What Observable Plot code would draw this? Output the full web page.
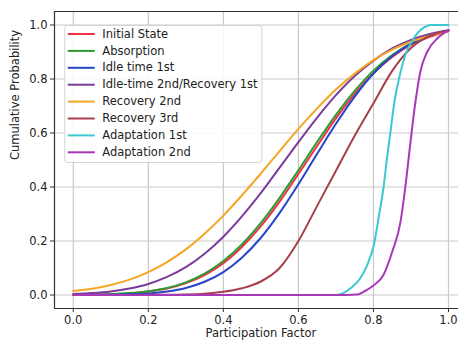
<!DOCTYPE html>
<html>
<head>
<meta charset="utf-8">
<script src="https://cdn.jsdelivr.net/npm/d3@7"></script>
<script src="https://cdn.jsdelivr.net/npm/@observablehq/plot@0.6"></script>
<style>
  html, body { margin: 0; padding: 0; background: #fff; overflow: hidden; }
  #chart { width: 458px; height: 343px; }
</style>
</head>
<body>
<div id="chart"></div>
<script>
// ---- Data ----
const seriesNames = [
  "Initial State", "Absorption", "Idle time 1st", "Idle-time 2nd/Recovery 1st",
  "Recovery 2nd", "Recovery 3rd", "Adaptation 1st", "Adaptation 2nd"
];
const seriesColors = ["#f2304a", "#2f9a2f", "#2446c8", "#7a3c9c", "#f5a623", "#a8404c", "#3cc8d2", "#a838b8"];

const gridX = [0, 0.05, 0.1, 0.15, 0.2, 0.25, 0.3, 0.35, 0.4, 0.45, 0.5,
               0.55, 0.6, 0.65, 0.7, 0.75, 0.8, 0.85, 0.9, 0.95, 1.0];

const initialState = [0.0005, 0.001, 0.003, 0.006, 0.013, 0.024, 0.044, 0.074, 0.118, 0.179, 0.255,
                      0.346, 0.448, 0.552, 0.654, 0.745, 0.821, 0.882, 0.926, 0.956, 0.977];
const absorption   = [0.0006, 0.0014, 0.003, 0.007, 0.014, 0.026, 0.047, 0.079, 0.126, 0.188, 0.267,
                      0.36, 0.462, 0.567, 0.667, 0.756, 0.831, 0.889, 0.931, 0.96, 0.978];
const idleTime1st  = [0.0001, 0.0004, 0.001, 0.003, 0.006, 0.013, 0.026, 0.049, 0.085, 0.139, 0.212,
                      0.304, 0.41, 0.523, 0.634, 0.735, 0.82, 0.885, 0.931, 0.962, 0.98];
const idleTime2nd  = [0.004, 0.007, 0.013, 0.024, 0.041, 0.067, 0.103, 0.153, 0.216, 0.292, 0.378,
                      0.472, 0.566, 0.657, 0.74, 0.811, 0.868, 0.913, 0.945, 0.967, 0.981];
const recovery2nd  = [0.015, 0.023, 0.037, 0.057, 0.085, 0.122, 0.169, 0.227, 0.294, 0.37, 0.45,
                      0.533, 0.615, 0.691, 0.761, 0.82, 0.87, 0.909, 0.938, 0.96, 0.978];
const recovery3rd  = [0, 0, 0, 0, 0.001, 0.001, 0.002, 0.005, 0.012, 0.025, 0.05,
                      0.1, 0.2, 0.33, 0.46, 0.59, 0.71, 0.83, 0.915, 0.96, 0.98];

const adaptation1stX = [0, 0.1, 0.2, 0.3, 0.4, 0.5, 0.6, 0.7, 0.712, 0.739, 0.765, 0.783, 0.801, 0.815,
                        0.827, 0.836, 0.845, 0.856, 0.868, 0.885, 0.907, 0.934, 0.952, 1.0];
const adaptation1stY = [0, 0, 0, 0, 0, 0, 0, 0, 0.003, 0.025, 0.062, 0.11, 0.185, 0.296,
                        0.40, 0.506, 0.60, 0.716, 0.80, 0.889, 0.95, 0.99, 1.0, 1.0];

const adaptation2ndX = [0, 0.1, 0.2, 0.3, 0.4, 0.5, 0.6, 0.7, 0.757, 0.774, 0.8, 0.827, 0.85, 0.872,
                        0.885, 0.899, 0.912, 0.925, 0.943, 0.97, 1.0];
const adaptation2ndY = [0, 0, 0, 0, 0, 0, 0, 0, 0.002, 0.012, 0.035, 0.075, 0.16, 0.27,
                        0.40, 0.57, 0.716, 0.827, 0.90, 0.95, 0.98];

const xTicks = [0, 0.2, 0.4, 0.6, 0.8, 1.0];
const yTicks = [0, 0.2, 0.4, 0.6, 0.8, 1.0];
const xLabel = "Participation Factor";
const yLabel = "Cumulative Probability";

// ---- Build table ----
const gridSeries = [initialState, absorption, idleTime1st, idleTime2nd, recovery2nd, recovery3rd];
const rows = [];
gridSeries.forEach((vals, i) => vals.forEach((v, j) => rows.push({series: seriesNames[i], x: gridX[j], y: v})));
adaptation1stX.forEach((x, j) => rows.push({series: seriesNames[6], x, y: adaptation1stY[j]}));
adaptation2ndX.forEach((x, j) => rows.push({series: seriesNames[7], x, y: adaptation2ndY[j]}));

// pixel helpers for legend placement (frame: x 0 -> 73px, scale 375px/unit; y 0 -> 295px, 270px/unit)
const PX = px => (px - 73) / 375;
const PY = py => (295 - py) / 270;
const legendRows = seriesNames.map((name, i) => ({name, i}));
const rowY = d => PY(34 + 16.9 * d.i);

const font = "DejaVu Sans, sans-serif";
const xDomain = [-0.05, (458 - 73) / 375];

const chart = Plot.plot({
  width: 458,
  height: 343,
  marginLeft: 54,
  marginRight: 0,
  marginTop: 11,
  marginBottom: 35,
  style: {fontFamily: font, fontSize: "11.5px", color: "#222", background: "#fff"},
  x: {domain: xDomain, label: null},
  y: {domain: [-0.05, 1.05], label: null},
  color: {domain: seriesNames, range: seriesColors},
  marks: [
    // grid
    Plot.ruleX(xTicks, {stroke: "#c9c9c9", strokeWidth: 1.2}),
    Plot.ruleY(yTicks, {stroke: "#c9c9c9", strokeWidth: 1.2}),
    // spines
    Plot.ruleX([-0.05], {y1: -0.05, y2: 1.05, stroke: "#333", strokeWidth: 1.2}),
    Plot.ruleY([-0.05, 1.05], {stroke: "#333", strokeWidth: 1.2}),
    // axes
    Plot.axisX(xTicks, {tickSize: 4, tickPadding: 3, tickFormat: d3.format(".1f"), fontSize: 11.5, stroke: "#333", fill: "#222", label: null}),
    Plot.axisY(yTicks, {tickSize: 4, tickPadding: 3, tickFormat: d3.format(".1f"), fontSize: 11.5, stroke: "#333", fill: "#222", label: null}),
    // curves
    Plot.line(rows, {x: "x", y: "y", z: "series", stroke: "series", strokeWidth: 2, curve: "monotone-x"}),
    // axis titles
    Plot.text([xLabel], {x: 0.5, frameAnchor: "bottom", dy: 28, text: d => d, fontSize: 11.5, fill: "#222"}),
    Plot.text([yLabel], {frameAnchor: "left", dx: -39, rotate: -90, text: d => d, fontSize: 11.5, fill: "#222"}),
    // legend
    Plot.rect([0], {x1: PX(65), x2: PX(262), y1: PY(26), y2: PY(163), fill: "#fff", fillOpacity: 0.85, stroke: "#d4d4d4", rx: 3}),
    Plot.ruleY(legendRows, {y: rowY, x1: PX(68), x2: PX(95), stroke: d => d.name, strokeWidth: 2}),
    Plot.text(legendRows, {x: PX(102), y: rowY, text: "name", textAnchor: "start", fontSize: 11.5, fill: "#222"})
  ]
});
document.getElementById("chart").appendChild(chart);
</script>
</body>
</html>
